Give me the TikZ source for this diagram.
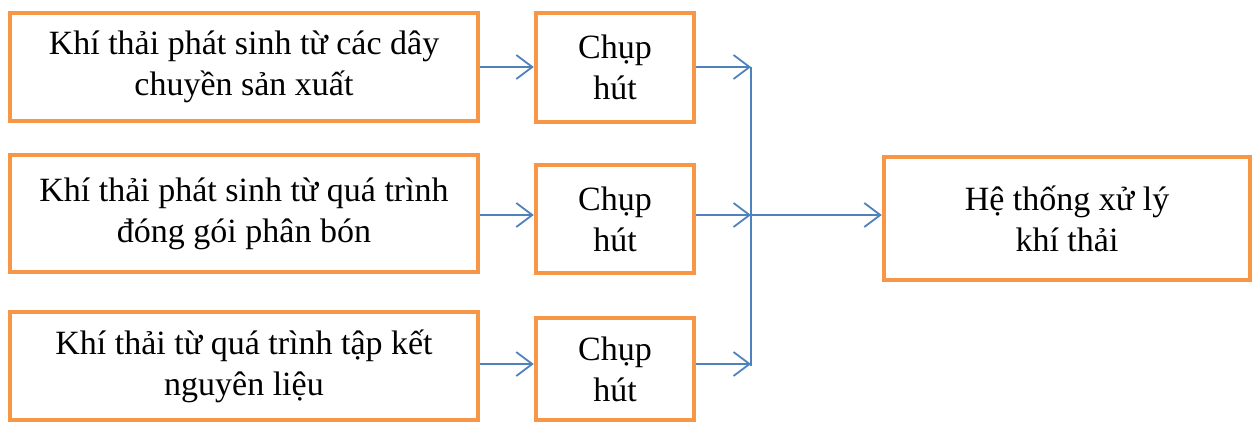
\documentclass[tikz,border=0pt]{standalone}
\usepackage{fontspec}
\setmainfont{Liberation Serif}
\usetikzlibrary{arrows.meta}
\definecolor{borange}{HTML}{F79646}
\definecolor{lblue}{HTML}{4F81BD}
\tikzset{
  box/.style={draw=borange, line width=4.5pt, fill=white, align=center, inner sep=0pt,
    font=\fontsize{34}{41}\selectfont},
  conn/.style={draw=lblue, line width=1.8pt, -{Straight Barb[length=16pt,width=24pt,line width=1.8pt]}},
  plain/.style={draw=lblue, line width=1.8pt}
}
\begin{document}
\begin{tikzpicture}[x=1pt,y=-1pt]
\useasboundingbox (0,0) rectangle (1253,426);
\node[box, minimum width=468pt, minimum height=108pt] (a1) at (244,67) {Khí thải phát sinh từ các dây\\chuyền sản xuất};
\node[box, minimum width=468pt, minimum height=117pt] (a2) at (244,213.5) {Khí thải phát sinh từ quá trình\\đóng gói phân bón};
\node[box, minimum width=468pt, minimum height=108pt] (a3) at (244,366) {Khí thải từ quá trình tập kết\\nguyên liệu};
\node[box, minimum width=158pt, minimum height=109pt] (b1) at (615,67.5) {Chụp\\hút};
\node[box, minimum width=158pt, minimum height=108pt] (b2) at (615,219) {Chụp\\hút};
\node[box, minimum width=158pt, minimum height=102pt] (b3) at (615,369) {Chụp\\hút};
\node[box, minimum width=366pt, minimum height=123pt] (c) at (1067,218.5) {Hệ thống xử lý\\khí thải};
\coordinate (t) at (751,67);
\coordinate (m) at (751,215);
\coordinate (u) at (751,366);
\draw[plain] (t) -- (u);
\draw[conn] (a1.east |- 0,67) -- (b1.west |- 0,67);
\draw[conn] (a2.east |- 0,215) -- (b2.west |- 0,215);
\draw[conn] (a3.east |- 0,364) -- (b3.west |- 0,364);
\draw[conn] (b1.east |- t) -- (t);
\draw[conn] (b2.east |- m) -- (m);
\draw[conn] (b3.east |- 0,364) -- (u |- 0,364);
\draw[conn] (m) -- (c.west |- m);
\end{tikzpicture}
\end{document}
